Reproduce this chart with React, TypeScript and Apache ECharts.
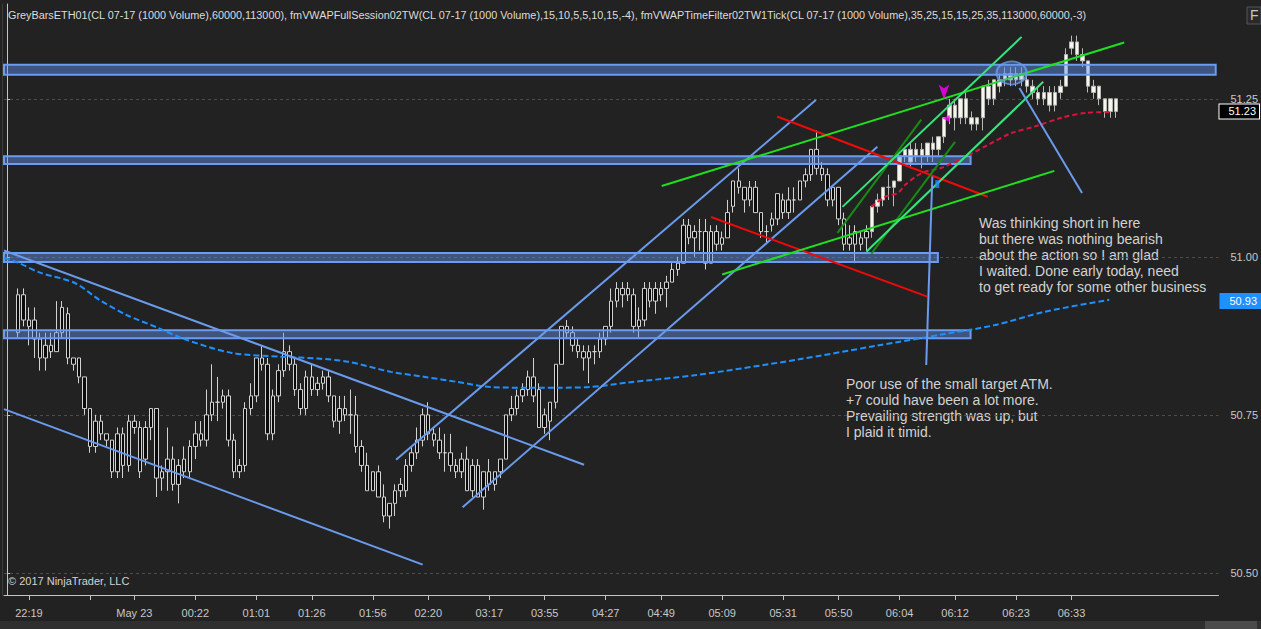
import React, { useEffect, useRef } from 'react';
import * as echarts from 'echarts';

// ---------- axis / layout data ----------
const SLOT_COUNT = 219; // bar slots on the category axis
const FIRST_SLOT = 2; // slot of the first bar
const tickSlots = [4, 15, 23, 34, 45, 55, 66, 76, 87, 97, 108, 118, 129, 140, 150, 161, 171, 182, 192];
const tickLabels = ['22:19', '', 'May 23', '00:22', '01:01', '01:26', '01:56', '02:20', '03:17', '03:55', '04:27', '04:49', '05:09', '05:31', '05:50', '06:04', '06:12', '06:23', '06:33'];
const yTicks = [50.5, 50.75, 51.0, 51.25];
const yMin = 50.465;
const yMax = 51.4;

// ---------- bars: [open, close, low, high] ----------
const greyBars = [
  [50.88, 50.94, 50.87, 50.95], [50.94, 50.90, 50.89, 50.95], [50.90, 50.89, 50.86, 50.92], [50.90, 50.87, 50.84, 50.92],
  [50.87, 50.84, 50.82, 50.88], [50.84, 50.86, 50.82, 50.88], [50.86, 50.85, 50.84, 50.88], [50.85, 50.88, 50.85, 50.93],
  [50.88, 50.92, 50.87, 50.93], [50.91, 50.84, 50.83, 50.92], [50.84, 50.83, 50.82, 50.84], [50.84, 50.81, 50.80, 50.84],
  [50.81, 50.76, 50.75, 50.81], [50.76, 50.70, 50.69, 50.76], [50.70, 50.74, 50.69, 50.75], [50.74, 50.72, 50.71, 50.75],
  [50.72, 50.71, 50.70, 50.72], [50.71, 50.66, 50.65, 50.71], [50.66, 50.72, 50.65, 50.73], [50.72, 50.67, 50.65, 50.73],
  [50.67, 50.74, 50.66, 50.75], [50.74, 50.73, 50.72, 50.75], [50.73, 50.66, 50.65, 50.74], [50.68, 50.73, 50.67, 50.74],
  [50.73, 50.76, 50.71, 50.76], [50.76, 50.65, 50.62, 50.76], [50.65, 50.66, 50.63, 50.67], [50.66, 50.68, 50.63, 50.73],
  [50.68, 50.64, 50.63, 50.70], [50.64, 50.67, 50.61, 50.68], [50.66, 50.68, 50.65, 50.70], [50.66, 50.70, 50.65, 50.71],
  [50.70, 50.72, 50.68, 50.74], [50.72, 50.71, 50.70, 50.74], [50.71, 50.75, 50.70, 50.79], [50.75, 50.77, 50.74, 50.83],
  [50.77, 50.77, 50.74, 50.81], [50.77, 50.78, 50.76, 50.79], [50.78, 50.71, 50.70, 50.79], [50.71, 50.66, 50.65, 50.72],
  [50.66, 50.67, 50.65, 50.68], [50.67, 50.76, 50.66, 50.77], [50.76, 50.78, 50.75, 50.80], [50.78, 50.84, 50.77, 50.84],
  [50.84, 50.83, 50.82, 50.86], [50.83, 50.72, 50.71, 50.84], [50.72, 50.78, 50.71, 50.79], [50.78, 50.82, 50.77, 50.83],
  [50.82, 50.85, 50.81, 50.88], [50.85, 50.83, 50.82, 50.86], [50.83, 50.79, 50.78, 50.84], [50.79, 50.76, 50.75, 50.80],
  [50.76, 50.81, 50.75, 50.82], [50.81, 50.79, 50.78, 50.83], [50.79, 50.80, 50.78, 50.81],
  [50.80, 50.81, 50.79, 50.82], [50.81, 50.78, 50.77, 50.82], [50.78, 50.74, 50.73, 50.78], [50.74, 50.76, 50.72, 50.78],
  [50.76, 50.75, 50.74, 50.78], [50.75, 50.75, 50.72, 50.79], [50.75, 50.70, 50.69, 50.78], [50.70, 50.67, 50.66, 50.71],
  [50.67, 50.63, 50.63, 50.69], [50.63, 50.66, 50.63, 50.66], [50.66, 50.62, 50.62, 50.67], [50.62, 50.59, 50.58, 50.64],
  [50.59, 50.61, 50.57, 50.61], [50.61, 50.63, 50.59, 50.64], [50.63, 50.64, 50.62, 50.65], [50.63, 50.67, 50.62, 50.68],
  [50.67, 50.69, 50.66, 50.70], [50.69, 50.71, 50.68, 50.73], [50.71, 50.75, 50.70, 50.76], [50.75, 50.72, 50.71, 50.77],
  [50.72, 50.71, 50.70, 50.73], [50.71, 50.69, 50.68, 50.73], [50.69, 50.69, 50.66, 50.72], [50.69, 50.67, 50.66, 50.72],
  [50.67, 50.66, 50.65, 50.68], [50.66, 50.68, 50.65, 50.69], [50.68, 50.63, 50.63, 50.70], [50.63, 50.67, 50.62, 50.68],
  [50.67, 50.62, 50.62, 50.68], [50.62, 50.66, 50.60, 50.66], [50.66, 50.64, 50.63, 50.68], [50.64, 50.66, 50.63, 50.66],
  [50.66, 50.68, 50.65, 50.68], [50.68, 50.75, 50.68, 50.75], [50.75, 50.76, 50.74, 50.78], [50.76, 50.78, 50.75, 50.79],
  [50.78, 50.79, 50.77, 50.80], [50.79, 50.81, 50.78, 50.82], [50.81, 50.78, 50.77, 50.84], [50.79, 50.73, 50.73, 50.80],
  [50.73, 50.75, 50.72, 50.76], [50.74, 50.77, 50.71, 50.77], [50.77, 50.83, 50.76, 50.83], [50.83, 50.89, 50.83, 50.89],
  [50.89, 50.88, 50.87, 50.90], [50.88, 50.86, 50.85, 50.89], [50.86, 50.85, 50.84, 50.87], [50.85, 50.84, 50.82, 50.86],
  [50.84, 50.85, 50.80, 50.86], [50.85, 50.85, 50.83, 50.86], [50.85, 50.87, 50.84, 50.88], [50.87, 50.89, 50.86, 50.89],
  [50.89, 50.93, 50.88, 50.95], [50.93, 50.95, 50.92, 50.96], [50.95, 50.94, 50.92, 50.96],
  [50.94, 50.95, 50.93, 50.96], [50.94, 50.89, 50.88, 50.95], [50.89, 50.90, 50.87, 50.92], [50.90, 50.95, 50.89, 50.96],
  [50.95, 50.93, 50.92, 50.96], [50.93, 50.95, 50.91, 50.96], [50.95, 50.94, 50.93, 50.96], [50.95, 50.96, 50.92, 50.97],
  [50.96, 50.98, 50.96, 50.99], [50.98, 50.99, 50.97, 51.00], [50.99, 51.05, 50.99, 51.06], [51.05, 51.03, 51.02, 51.06],
  [51.03, 51.04, 51.00, 51.05], [51.04, 51.04, 51.01, 51.06], [51.04, 50.99, 50.98, 51.06], [50.99, 51.04, 50.99, 51.05],
  [51.04, 51.02, 51.01, 51.05], [51.02, 51.03, 51.01, 51.04], [51.03, 51.07, 51.03, 51.09], [51.08, 51.12, 51.07, 51.12],
  [51.12, 51.11, 51.10, 51.14], [51.11, 51.09, 51.07, 51.11], [51.09, 51.11, 51.08, 51.12], [51.11, 51.07, 51.07, 51.12],
  [51.07, 51.04, 51.03, 51.07], [51.04, 51.04, 51.02, 51.05], [51.05, 51.06, 51.04, 51.07], [51.06, 51.10, 51.05, 51.10],
  [51.09, 51.07, 51.06, 51.10], [51.07, 51.09, 51.06, 51.11], [51.09, 51.09, 51.07, 51.11], [51.09, 51.12, 51.09, 51.12],
  [51.12, 51.13, 51.11, 51.14], [51.13, 51.17, 51.12, 51.17], [51.17, 51.14, 51.13, 51.20], [51.14, 51.13, 51.12, 51.15],
  [51.13, 51.09, 51.08, 51.14], [51.09, 51.11, 51.08, 51.11], [51.11, 51.06, 51.05, 51.11], [51.06, 51.02, 51.01, 51.07],
  [51.02, 51.03, 51.01, 51.05], [51.04, 51.02, 50.99, 51.05], [51.02, 51.03, 51.01, 51.04], [51.03, 51.04, 51.01, 51.05],
];
const whiteBars = [
  [51.04, 51.08, 51.03, 51.08], [51.08, 51.09, 51.07, 51.10], [51.09, 51.11, 51.08, 51.11], [51.11, 51.11, 51.09, 51.13],
  [51.11, 51.12, 51.08, 51.12], [51.12, 51.16, 51.12, 51.16], [51.16, 51.17, 51.15, 51.17],
  [51.17, 51.15, 51.14, 51.18], [51.16, 51.17, 51.15, 51.18], [51.17, 51.16, 51.14, 51.18], [51.16, 51.18, 51.15, 51.18],
  [51.18, 51.17, 51.15, 51.19], [51.17, 51.19, 51.16, 51.19], [51.19, 51.22, 51.18, 51.22], [51.22, 51.24, 51.21, 51.25],
  [51.24, 51.22, 51.20, 51.25], [51.22, 51.25, 51.21, 51.25], [51.25, 51.22, 51.21, 51.26], [51.22, 51.21, 51.20, 51.23],
  [51.21, 51.22, 51.20, 51.22], [51.22, 51.27, 51.20, 51.27], [51.27, 51.25, 51.24, 51.28], [51.25, 51.28, 51.24, 51.28],
  [51.28, 51.27, 51.26, 51.29], [51.28, 51.29, 51.27, 51.30], [51.29, 51.28, 51.27, 51.30], [51.28, 51.29, 51.27, 51.30],
  [51.29, 51.28, 51.27, 51.30], [51.28, 51.27, 51.26, 51.29], [51.27, 51.26, 51.25, 51.28], [51.26, 51.25, 51.24, 51.27],
  [51.25, 51.26, 51.24, 51.27], [51.26, 51.24, 51.23, 51.27], [51.24, 51.26, 51.23, 51.27], [51.26, 51.27, 51.25, 51.28],
  [51.27, 51.32, 51.27, 51.33], [51.33, 51.34, 51.32, 51.35], [51.34, 51.32, 51.31, 51.35], [51.32, 51.31, 51.30, 51.33],
  [51.31, 51.27, 51.26, 51.31], [51.27, 51.26, 51.25, 51.28], [51.27, 51.25, 51.24, 51.27], [51.25, 51.23, 51.22, 51.25],
  [51.23, 51.25, 51.22, 51.25], [51.25, 51.23, 51.22, 51.25],
];
const lastPrice = 51.23;
const vwapMarker = 50.93;

// ---------- indicator lines: [slot, price] ----------
const vwapFull = [
  [-0.5, 50.998], [2.0, 50.991], [6.0, 50.975], [12.2, 50.959], [16.7, 50.932], [21.6, 50.908], [26.9, 50.889],
  [32.3, 50.869], [40.6, 50.848], [49.5, 50.842], [56.2, 50.839], [61.6, 50.834], [69.3, 50.818], [75.4, 50.810],
  [81.3, 50.802], [87.2, 50.794], [93.3, 50.793], [99.2, 50.793], [105.2, 50.794], [111.8, 50.801], [124.3, 50.813],
  [142.3, 50.837], [156.6, 50.859], [169.2, 50.878], [178.2, 50.892], [187.1, 50.913], [198.8, 50.932],
];
const vwapTime = [
  [155.9, 51.079], [158.4, 51.095], [160.7, 51.101], [162.0, 51.114], [165.1, 51.133], [168.6, 51.141], [172.8, 51.158],
  [176.9, 51.177], [181.2, 51.196], [185.3, 51.206], [190.2, 51.220], [194.8, 51.228], [199.1, 51.229],
];

// ---------- drawing objects: [slot1, price1, slot2, price2] ----------
const zones = [
  [-0.5, 51.304, 218.0, 51.288],
  [-0.5, 51.159, 173.8, 51.147],
  [-0.5, 51.006, 167.9, 50.992],
  [-0.5, 50.884, 173.8, 50.871],
];
const blueLines = [
  [-0.5, 51.010, 104.1, 50.671],
  [-0.5, 50.759, 75.0, 50.513],
  [70.2, 50.679, 145.9, 51.248],
  [82.2, 50.604, 157.0, 51.174],
];
const redLines = [
  [138.9, 51.222, 176.9, 51.095],
  [127.0, 51.063, 166.0, 50.937],
];
const greenLines = [
  [118.1, 51.112, 201.5, 51.339],
  [129.0, 50.972, 188.9, 51.136],
];
const mintLines = [
  [150.7, 51.079, 183.0, 51.348],
  [155.0, 51.008, 186.9, 51.277],
];
const darkGreenLines = [
  [149.8, 51.038, 164.9, 51.217],
  [155.9, 51.005, 171.0, 51.182],
];
const arrowLines = [
  [193.9, 51.101, 182.6, 51.267],
  [165.8, 50.829, 166.9, 51.127],
];
const circleMark = [181.2, 51.291];
const magentaDown = [169.0, 51.249];
const magentaLeft = [169.4, 51.219];
const blueSquare = [167.8, 51.115];

const titleText =
  'GreyBarsETH01(CL 07-17 (1000 Volume),60000,113000), fmVWAPFullSession02TW(CL 07-17 (1000 Volume),15,10,5,5,10,15,-4), fmVWAPTimeFilter02TW1Tick(CL 07-17 (1000 Volume),35,25,15,15,25,35,113000,60000,-3)';
const noteShort =
  'Was thinking short in here\nbut there was nothing bearish\nabout the action so I am glad\nI waited. Done early today, need\nto get ready for some other business';
const noteATM =
  'Poor use of the small target ATM.\n+7 could have been a lot more.\nPrevailing strength was up, but\nI plaid it timid.';

const FONT = '"Liberation Sans", Arial, sans-serif';
const BG = '#222222';
const AXIS = '#c4c4c4';
const HIDDEN_LINE = { color: 'rgba(0,0,0,0)', width: 0 };

function segs(list: number[][], color: string, width: number) {
  return list.map(([x1, y1, x2, y2]) => [
    { coord: [x1, y1], lineStyle: { color, width, type: 'solid' } },
    { coord: [x2, y2] },
  ]);
}

function buildOption() {
  const categories = Array.from({ length: SLOT_COUNT }, (_, i) => String(i));
  const labelAt: Record<number, string> = {};
  tickSlots.forEach((s, k) => (labelAt[s] = tickLabels[k]));
  const isTick = (i: number) => tickSlots.indexOf(i) >= 0;

  const greyData = greyBars.map((b, i) => [FIRST_SLOT + i, ...b]);
  const whiteData = whiteBars.map((b, i) => [FIRST_SLOT + greyBars.length + i, ...b]);

  const candleCommon = {
    type: 'candlestick',
    xAxisIndex: 0,
    yAxisIndex: 0,
    barWidth: 4,
    encode: { x: 0, y: [1, 2, 3, 4] },
    silent: true,
    z: 2,
  };

  return {
    animation: false,
    backgroundColor: BG,
    title: {
      text: titleText,
      left: 8,
      top: 9,
      padding: 0,
      textStyle: { color: '#dcdcdc', fontSize: 10.85, fontWeight: 'normal', fontFamily: FONT },
    },
    grid: { left: 4, right: 36, top: 4, bottom: 34, containLabel: false },
    xAxis: [
      {
        type: 'category',
        data: categories,
        boundaryGap: true,
        axisLine: { show: true, lineStyle: { color: AXIS, width: 1 } },
        axisTick: { show: true, alignWithLabel: true, interval: (i: number) => isTick(i), length: 5, lineStyle: { color: AXIS } },
        axisLabel: {
          interval: (i: number) => isTick(i),
          formatter: (v: string) => labelAt[Number(v)] ?? '',
          color: '#c8c8c8',
          fontSize: 11,
          fontFamily: FONT,
          margin: 12,
        },
        splitLine: { show: false },
      },
      { type: 'value', min: -0.5, max: SLOT_COUNT - 0.5, show: false },
    ],
    yAxis: {
      type: 'value',
      position: 'right',
      min: yMin,
      max: yMax,
      axisLine: { show: true, lineStyle: { color: AXIS, width: 1 } },
      axisTick: { show: true, length: 5, customValues: yTicks, lineStyle: { color: AXIS } },
      axisLabel: {
        customValues: yTicks,
        formatter: (v: number) => v.toFixed(2),
        color: '#c8c8c8',
        fontSize: 11,
        fontFamily: FONT,
        margin: 12,
      },
      splitLine: { show: false },
    },
    series: [
      {
        ...candleCommon,
        name: 'grey',
        data: greyData,
        itemStyle: {
          color: '#0b0b0b', color0: '#0b0b0b', borderColor: '#d2d2d2', borderColor0: '#d2d2d2',
          borderColorDoji: '#d2d2d2', borderWidth: 1,
        },
        markLine: {
          silent: true,
          symbol: ['none', 'none'],
          z: 1,
          data: yTicks.map((v) => ({ yAxis: v, lineStyle: { color: '#4c4c4c', type: [3, 3], width: 1 }, label: { show: false } })),
        },
      },
      {
        ...candleCommon,
        name: 'white',
        data: whiteData,
        itemStyle: {
          color: '#f6f6ea', color0: '#f6f6ea', borderColor: '#b8b8b8', borderColor0: '#b8b8b8',
          borderColorDoji: '#b8b8b8', borderWidth: 1,
        },
        markLine: {
          silent: true,
          symbol: ['none', 'none'],
          z: 8,
          data: [
            {
              yAxis: lastPrice,
              lineStyle: HIDDEN_LINE,
              label: {
                show: true, position: 'end', distance: 1, formatter: lastPrice.toFixed(2), color: '#ffffff',
                backgroundColor: '#000000', borderColor: '#ffffff', borderWidth: 1, padding: [2, 3, 1, 9],
                fontSize: 11, fontFamily: FONT, opacity: 1,
              },
            },
            {
              yAxis: vwapMarker,
              lineStyle: HIDDEN_LINE,
              label: {
                show: true, position: 'end', distance: 1, formatter: vwapMarker.toFixed(2), color: '#ffffff',
                backgroundColor: '#1e90ff', padding: [3, 4, 2, 10], fontSize: 11, fontFamily: FONT, opacity: 1,
              },
            },
          ],
        },
      },
      {
        type: 'line',
        name: 'vwapFull',
        xAxisIndex: 1,
        yAxisIndex: 0,
        data: vwapFull,
        smooth: 0.3,
        symbol: 'none',
        silent: true,
        z: 4,
        lineStyle: { color: '#1e90ff', width: 2, type: [6, 3] },
        markArea: {
          silent: true,
          z: 3,
          itemStyle: { color: 'rgba(100,149,237,0.45)', borderColor: '#6b9cf0', borderWidth: 2 },
          data: zones.map(([x1, y1, x2, y2]) => [{ coord: [x1, y1] }, { coord: [x2, y2] }]),
        },
        markLine: {
          silent: true,
          symbol: ['none', 'none'],
          label: { show: false },
          z: 5,
          data: [
            ...segs(blueLines, '#6a9bec', 2),
            ...segs(redLines, '#ee0a0a', 2),
            ...segs(darkGreenLines, '#168c16', 2),
            ...segs(greenLines, '#1fe01f', 2),
            ...segs(mintLines, '#36e67c', 2),
          ],
        },
      },
      {
        type: 'line',
        name: 'vwapTime',
        xAxisIndex: 1,
        yAxisIndex: 0,
        data: vwapTime,
        smooth: 0.3,
        symbol: 'none',
        silent: true,
        z: 4,
        lineStyle: { color: '#d8143c', width: 2, type: [5, 3] },
        markLine: {
          silent: true,
          symbol: ['none', 'arrow'],
          symbolSize: [1, 11],
          label: { show: false },
          z: 5,
          data: segs(arrowLines, '#6a9bec', 2),
        },
      },
      {
        type: 'scatter',
        xAxisIndex: 1,
        yAxisIndex: 0,
        silent: true,
        z: 6,
        data: [
          {
            value: circleMark, symbol: 'circle', symbolSize: [30, 23],
            itemStyle: { color: 'rgba(100,149,237,0.35)', borderColor: '#6a9bec', borderWidth: 2 },
          },
          { value: magentaDown, symbol: 'arrow', symbolSize: [8, 15], symbolRotate: 180, itemStyle: { color: '#ff00ff' } },
          { value: magentaLeft, symbol: 'triangle', symbolSize: [7, 7], symbolRotate: 90, itemStyle: { color: '#ff00ff' } },
          { value: blueSquare, symbol: 'rect', symbolSize: [4, 8], itemStyle: { color: '#1e90ff' } },
        ],
      },
    ],
    graphic: [
      { type: 'line', shape: { x1: 2.5, y1: 4, x2: 2.5, y2: 595 }, style: { stroke: '#3c3c3c', lineWidth: 1 }, silent: true },
      {
        type: 'text', left: 979, top: 215, silent: true,
        style: { text: noteShort, fill: '#d2d2d2', fontSize: 14, fontFamily: FONT, lineHeight: 16 },
      },
      {
        type: 'text', left: 846, top: 376, silent: true,
        style: { text: noteATM, fill: '#d2d2d2', fontSize: 14, fontFamily: FONT, lineHeight: 16 },
      },
      {
        type: 'text', left: 8, top: 575, silent: true,
        style: { text: '\u00a9 2017 NinjaTrader, LLC', fill: '#d2d2d2', fontSize: 11, fontFamily: FONT },
      },
      { type: 'rect', shape: { x: 0, y: 621, width: 1261, height: 8 }, style: { fill: '#2f2f2f' }, silent: true },
      { type: 'rect', shape: { x: 1205, y: 621, width: 52, height: 8 }, style: { fill: '#4a4a4a' }, silent: true },
      { type: 'rect', shape: { x: 1247, y: 7, width: 14, height: 17 }, style: { fill: '#2a2a2a', stroke: '#555555', lineWidth: 1 }, silent: true },
      {
        type: 'text', left: 1250, top: 8, silent: true,
        style: { text: 'F', fill: '#c8c8c8', fontSize: 14, fontFamily: FONT },
      },
    ],
  };
}

export default function App() {
  const ref = useRef<HTMLDivElement>(null);
  useEffect(() => {
    if (!ref.current) return;
    const chart = echarts.init(ref.current, null, { renderer: 'svg' });
    chart.setOption(buildOption() as any);
    return () => chart.dispose();
  }, []);
  return (
    <div style={{ position: 'absolute', left: 0, top: 0, width: 1261, height: 629, background: BG }}>
      <div ref={ref} style={{ width: 1261, height: 629 }} />
    </div>
  );
}
